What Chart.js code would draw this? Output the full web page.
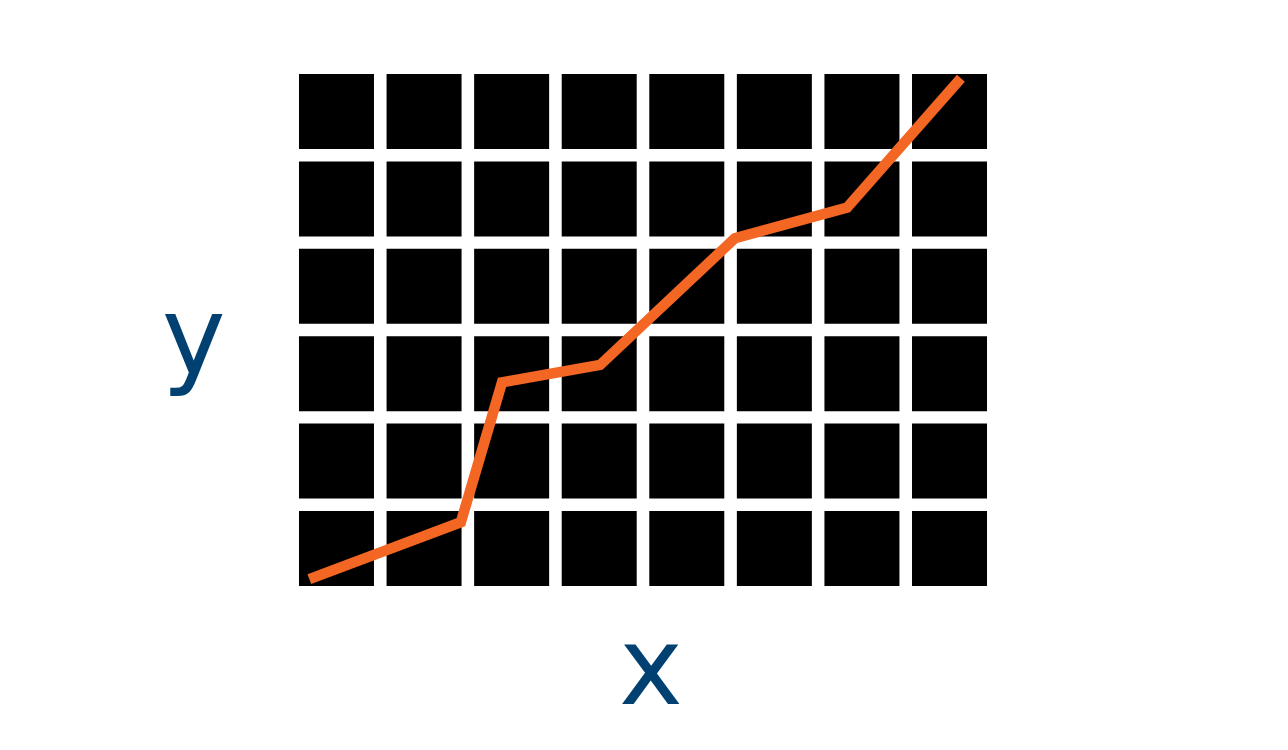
<!DOCTYPE html>
<html>
<head>
<meta charset="utf-8">
<script src="https://cdn.jsdelivr.net/npm/chart.js@4/dist/chart.umd.min.js"></script>
<style>
  html, body { margin: 0; padding: 0; background: #fff; }
  canvas { display: block; }
</style>
</head>
<body>
<canvas id="chart" width="1288" height="750" style="width:1288px;height:750px"></canvas>
<script>
// grid of cells: 8 columns x 6 rows
const columns = [0, 1, 2, 3, 4, 5, 6, 7];
const rows    = [0, 1, 2, 3, 4, 5];

// orange trend line
const lineX = [0.19, 1.92, 2.39, 3.51, 5.05, 6.33, 7.63];
const lineY = [0.15, 0.80, 2.40, 2.60, 4.05, 4.40, 5.88];

// axis labels (single tick each)
const xLabel = 'x';
const yLabel = 'y';
const xLabelAt = 4.09;
const yLabelAt = 2.83;

const navy   = '#004172';
const orange = '#F36623';
const cellSide = 75;

const cells = [];
columns.forEach(c => rows.forEach(r => cells.push({ x: c + 0.5, y: r + 0.5 })));
const linePoints = lineX.map((x, i) => ({ x, y: lineY[i] }));

new Chart(document.getElementById('chart'), {
  type: 'scatter',
  data: {
    datasets: [
      {
        data: linePoints,
        showLine: true,
        borderColor: orange,
        borderWidth: 10.5,
        borderCapStyle: 'butt',
        borderJoinStyle: 'miter',
        pointRadius: 0,
        pointHoverRadius: 0,
        tension: 0
      },
      {
        data: cells,
        pointStyle: 'rect',
        pointRadius: cellSide / Math.SQRT2,
        pointHoverRadius: cellSide / Math.SQRT2,
        backgroundColor: '#000',
        borderWidth: 0,
        hoverBorderWidth: 0
      }
    ]
  },
  options: {
    responsive: false,
    animation: false,
    events: [],
    layout: { padding: { left: 0, right: 294.7, top: 67.8, bottom: 0 } },
    plugins: { legend: { display: false }, tooltip: { enabled: false } },
    scales: {
      x: {
        type: 'linear',
        min: 0, max: 8,
        grid: { display: false, drawTicks: false },
        border: { display: false },
        afterFit: s => { s.height = 157.8; s.paddingLeft = 0; s.paddingRight = 0; },
        afterBuildTicks: s => { s.ticks = [{ value: xLabelAt }]; },
        ticks: {
          color: navy,
          padding: 19,
          maxRotation: 0,
          font: { family: 'DejaVu Sans', size: 108 },
          callback: () => xLabel
        }
      },
      y: {
        type: 'linear',
        min: 0, max: 6,
        grid: { display: false, drawTicks: false },
        border: { display: false },
        afterFit: s => { s.width = 292.7; s.paddingTop = 0; s.paddingBottom = 0; },
        afterBuildTicks: s => { s.ticks = [{ value: yLabelAt }]; },
        ticks: {
          color: navy,
          padding: 67,
          font: { family: 'DejaVu Sans', size: 108 },
          callback: () => yLabel
        }
      }
    }
  }
});
</script>
</body>
</html>
